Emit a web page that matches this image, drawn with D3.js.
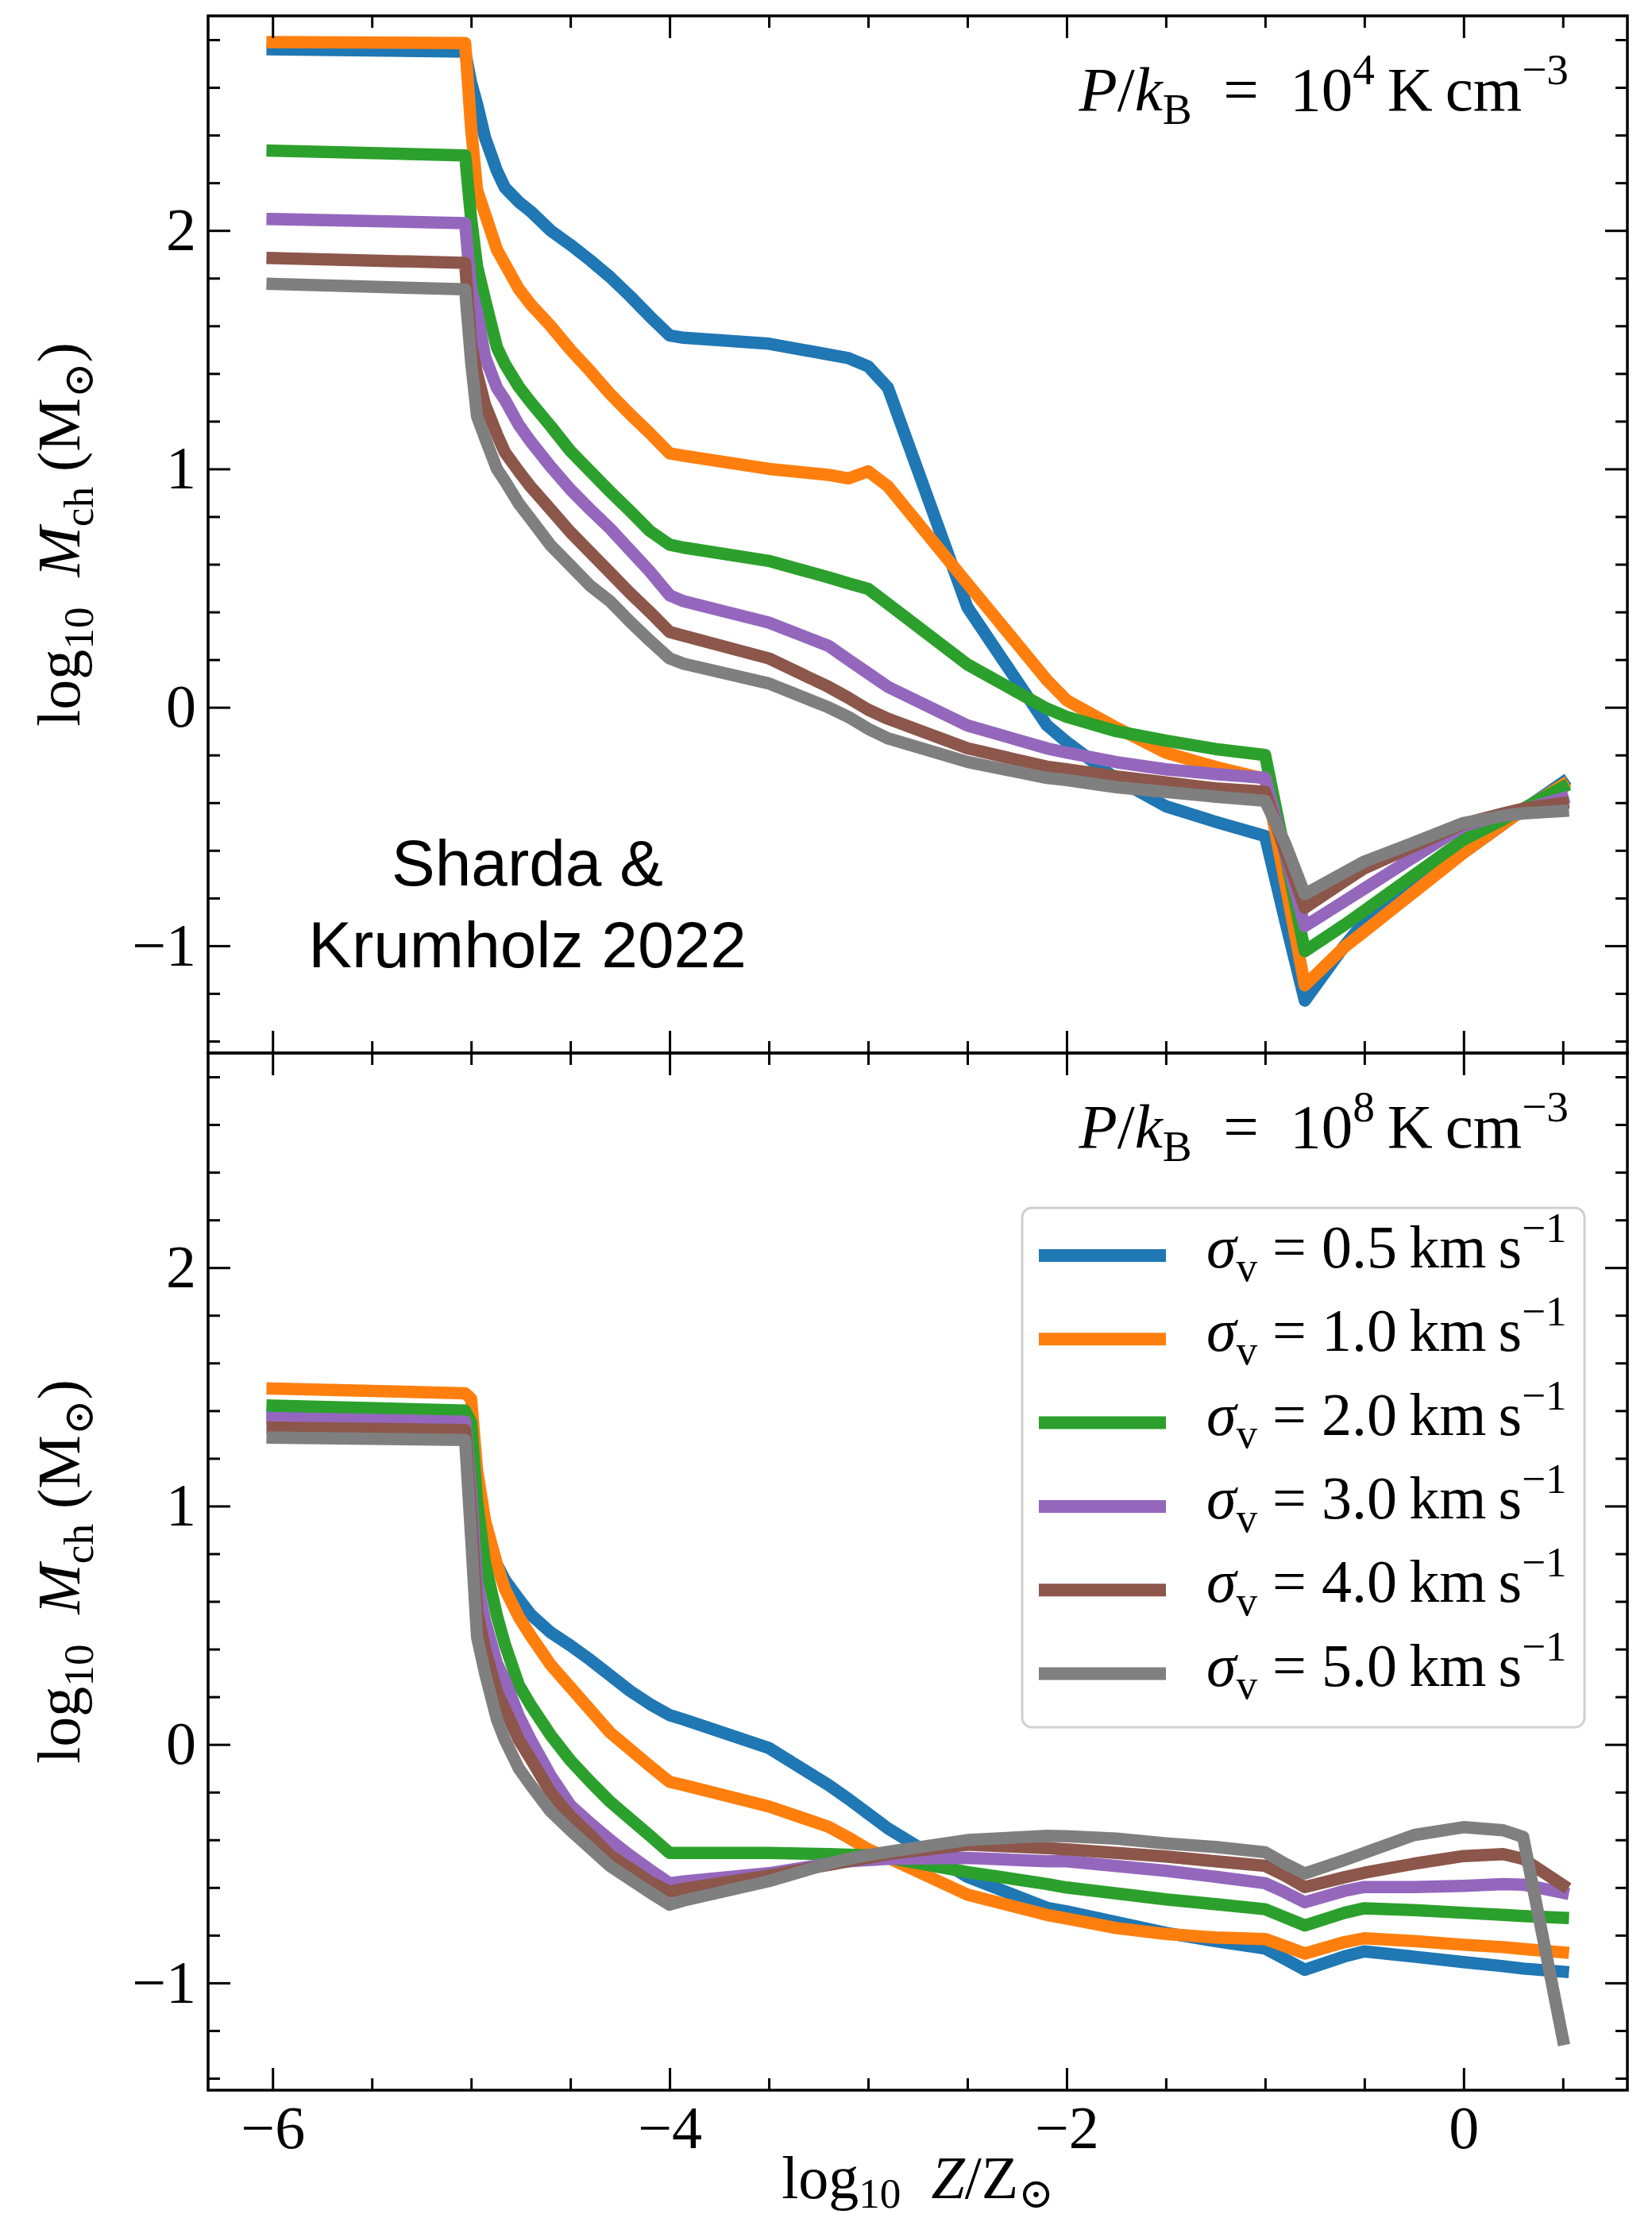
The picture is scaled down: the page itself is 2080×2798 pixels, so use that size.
<!DOCTYPE html>
<html>
<head>
<meta charset="utf-8">
<script src="https://cdn.jsdelivr.net/npm/d3@7"></script>
<style>
  body { margin: 0; background: #fff; }
  text { white-space: pre; }
</style>
</head>
<body>
<script>
// metallicity grid, log10 Z/Zsun
var logZ = [-6, -5.03, -5.0, -4.97, -4.93, -4.87, -4.83, -4.76, -4.7, -4.6, -4.5, -4.4, -4.3, -4.2, -4.1, -4.0, -3.93, -3.5,
  -3.2, -3.1, -3.0, -2.9, -2.5, -2.1, -2.0, -1.75, -1.5, -1.25, -1.0, -0.9, -0.8, -0.6, -0.5, -0.25, 0.0, 0.2, 0.3, 0.5]

// P/kB = 1e4 K cm^-3
var p4_s05 = [2.76, 2.75, 2.62, 2.53, 2.39, 2.25, 2.18, 2.12, 2.08, 2.00, 1.94, 1.875, 1.805, 1.725, 1.64, 1.56, 1.55, 1.525,
  1.48, 1.465, 1.43, 1.34, 0.42, -0.075, -0.145, -0.30, -0.415, -0.48, -0.54, -0.89, -1.23, -1.0, -0.90, -0.76, -0.61, -0.49, -0.43, -0.315]
var p4_s10 = [2.79, 2.786, 2.43, 2.17, 2.07, 1.92, 1.86, 1.755, 1.69, 1.60, 1.50, 1.41, 1.315, 1.23, 1.15, 1.065, 1.055, 1.0,
  0.975, 0.96, 0.99, 0.927, 0.52, 0.115, 0.03, -0.085, -0.19, -0.25, -0.30, -0.73, -1.166, -1.005, -0.94, -0.775, -0.61, -0.49, -0.43, -0.325]
var p4_s20 = [2.335, 2.315, 2.05, 1.85, 1.71, 1.51, 1.44, 1.345, 1.28, 1.18, 1.075, 0.99, 0.905, 0.824, 0.74, 0.682, 0.67, 0.614,
  0.545, 0.52, 0.497, 0.434, 0.18, -0.005, -0.04, -0.10, -0.14, -0.175, -0.20, -0.61, -1.023, -0.912, -0.853, -0.704, -0.555, -0.47, -0.425, -0.335]
var p4_s30 = [2.048, 2.031, 1.75, 1.66, 1.47, 1.34, 1.29, 1.185, 1.115, 1.01, 0.914, 0.83, 0.75, 0.66, 0.57, 0.47, 0.445, 0.355,
  0.258, 0.20, 0.143, 0.086, -0.076, -0.172, -0.19, -0.23, -0.26, -0.28, -0.296, -0.61, -0.918, -0.813, -0.76, -0.628, -0.497, -0.45, -0.43, -0.382]
var p4_s40 = [1.884, 1.864, 1.52, 1.40, 1.27, 1.145, 1.07, 0.99, 0.925, 0.83, 0.735, 0.65, 0.565, 0.48, 0.40, 0.316, 0.30, 0.205,
  0.086, 0.04, -0.01, -0.048, -0.172, -0.249, -0.26, -0.29, -0.315, -0.34, -0.354, -0.60, -0.841, -0.729, -0.675, -0.582, -0.488, -0.445, -0.425, -0.402]
var p4_s50 = [1.776, 1.753, 1.45, 1.22, 1.13, 1.00, 0.95, 0.855, 0.79, 0.68, 0.595, 0.51, 0.445, 0.36, 0.28, 0.205, 0.183, 0.10,
  0.0, -0.04, -0.09, -0.13, -0.229, -0.296, -0.305, -0.335, -0.355, -0.375, -0.392, -0.569, -0.784, -0.692, -0.647, -0.567, -0.485, -0.455, -0.445, -0.435]

// P/kB = 1e8 K cm^-3
var p8_s05 = [1.385, 1.37, 1.25, 1.05, 0.92, 0.755, 0.69, 0.61, 0.545, 0.47, 0.415, 0.355, 0.29, 0.225, 0.17, 0.123, 0.105, -0.015,
  -0.17, -0.228, -0.29, -0.352, -0.555, -0.685, -0.70, -0.745, -0.79, -0.825, -0.856, -0.90, -0.945, -0.889, -0.868, -0.89, -0.913, -0.93, -0.94, -0.953]
var p8_s10 = [1.493, 1.473, 1.45, 1.15, 0.94, 0.755, 0.652, 0.535, 0.456, 0.335, 0.24, 0.145, 0.05, -0.02, -0.09, -0.157, -0.17, -0.26,
  -0.345, -0.39, -0.44, -0.475, -0.63, -0.715, -0.73, -0.77, -0.795, -0.81, -0.816, -0.846, -0.877, -0.829, -0.813, -0.825, -0.84, -0.85, -0.858, -0.872]
var p8_s20 = [1.421, 1.40, 1.35, 1.02, 0.76, 0.54, 0.42, 0.25, 0.165, 0.04, -0.067, -0.156, -0.24, -0.311, -0.382, -0.455, -0.455, -0.455,
  -0.46, -0.462, -0.465, -0.475, -0.535, -0.585, -0.60, -0.625, -0.65, -0.67, -0.691, -0.725, -0.759, -0.706, -0.687, -0.695, -0.706, -0.715, -0.72, -0.727]
var p8_s30 = [1.369, 1.354, 1.05, 0.68, 0.52, 0.34, 0.27, 0.12, 0.02, -0.13, -0.255, -0.33, -0.40, -0.465, -0.525, -0.582, -0.575, -0.54,
  -0.50, -0.49, -0.485, -0.48, -0.476, -0.49, -0.49, -0.51, -0.53, -0.555, -0.582, -0.62, -0.662, -0.614, -0.598, -0.598, -0.593, -0.586, -0.588, -0.622]
var p8_s40 = [1.329, 1.319, 0.95, 0.56, 0.40, 0.22, 0.15, 0.02, -0.06, -0.20, -0.30, -0.38, -0.465, -0.52, -0.575, -0.618, -0.605, -0.55,
  -0.505, -0.49, -0.475, -0.46, -0.42, -0.435, -0.44, -0.455, -0.47, -0.49, -0.509, -0.55, -0.598, -0.557, -0.538, -0.50, -0.468, -0.46, -0.48, -0.59]
var p8_s50 = [1.287, 1.277, 0.87, 0.45, 0.30, 0.105, 0.02, -0.10, -0.17, -0.28, -0.36, -0.435, -0.51, -0.565, -0.62, -0.672, -0.655, -0.573,
  -0.50, -0.48, -0.464, -0.45, -0.401, -0.383, -0.385, -0.395, -0.415, -0.43, -0.452, -0.50, -0.541, -0.485, -0.455, -0.38, -0.347, -0.36, -0.388, -1.236]

var sigmaLabels = ['0.5', '1.0', '2.0', '3.0', '4.0', '5.0']
var colors = ['#1f77b4', '#ff7f0e', '#2ca02c', '#9467bd', '#8c564b', '#7f7f7f']
var xMajor = [-6, -4, -2, 0]
var yMajor = [-1, 0, 1, 2]

var W = 2080, H = 2798
var left = 262, right = 2049
var panelH = 1306
var panelTops = [20, 1326]
var serif = "'Liberation Serif', 'DejaVu Serif', serif"
var fs = 76
var lw = 15.5

var svg = d3.select('body').append('svg')
  .attr('width', W)
  .attr('height', H)
  .style('background', '#fff')

var x = d3.scaleLinear().domain([-6.325, 0.825]).range([left, right])

var xMinor = d3.range(-12, 2).map((v) => v / 2).filter((v) => xMajor.indexOf(v) < 0)
var yMinor = d3.range(-7, 15).map((v) => Math.round(v * 2) / 10).filter((v) => yMajor.indexOf(v) < 0)

function fmtNum(d) {
  return d < 0 ? '\u2212' + Math.abs(d) : '' + d
}

// appends tspans; parts: {t, it, sub, sup}
function addMath(textSel, parts, size, subShift) {
  var shift = 0
  var sd = subShift == null ? 0.22 : subShift
  parts.forEach(function(p) {
    var target = p.sub ? size * sd : (p.sup ? -size * 0.42 : 0)
    textSel.append('tspan')
      .attr('dy', target - shift)
      .attr('font-size', (p.sub || p.sup) ? size * 0.7 : size)
      .attr('font-style', p.it ? 'italic' : 'normal')
      .text(p.t)
    shift = target
  })
}

function drawPanel(idx, series, expo) {
  var top = panelTops[idx]
  var bottom = top + panelH
  var y = d3.scaleLinear().domain([-1.45, 2.9]).range([bottom, top])
  var g = svg.append('g')

  g.append('clipPath').attr('id', 'clip' + idx)
    .append('rect')
    .attr('x', left).attr('y', top)
    .attr('width', right - left).attr('height', panelH)

  var line = d3.line()
    .x((d, i) => x(logZ[i]))
    .y((d) => y(d))

  g.append('g')
    .attr('clip-path', 'url(#clip' + idx + ')')
    .selectAll('path')
    .data(series)
    .enter()
    .append('path')
    .attr('d', (d) => line(d))
    .attr('fill', 'none')
    .attr('stroke', (d, i) => colors[i])
    .attr('stroke-width', lw)
    .attr('stroke-linejoin', 'round')
    .attr('stroke-linecap', 'square')

  // ticks, all pointing inward
  var axes = [
    g.append('g').attr('transform', 'translate(' + left + ',0)')
      .call(d3.axisLeft(y).tickValues(yMajor).tickSize(-28).tickPadding(15).tickFormat(fmtNum)),
    g.append('g').attr('transform', 'translate(' + left + ',0)')
      .call(d3.axisLeft(y).tickValues(yMinor).tickSize(-15).tickFormat('')),
    g.append('g').attr('transform', 'translate(' + right + ',0)')
      .call(d3.axisRight(y).tickValues(yMajor).tickSize(-28).tickFormat('')),
    g.append('g').attr('transform', 'translate(' + right + ',0)')
      .call(d3.axisRight(y).tickValues(yMinor).tickSize(-15).tickFormat('')),
    g.append('g').attr('transform', 'translate(0,' + top + ')')
      .call(d3.axisTop(x).tickValues(xMajor).tickSize(-28).tickFormat('')),
    g.append('g').attr('transform', 'translate(0,' + top + ')')
      .call(d3.axisTop(x).tickValues(xMinor).tickSize(-15).tickFormat('')),
    g.append('g').attr('transform', 'translate(0,' + bottom + ')')
      .call(d3.axisBottom(x).tickValues(xMajor).tickSize(-28).tickPadding(19)
        .tickFormat(idx == 1 ? fmtNum : '')),
    g.append('g').attr('transform', 'translate(0,' + bottom + ')')
      .call(d3.axisBottom(x).tickValues(xMinor).tickSize(-15).tickFormat(''))
  ]
  axes.forEach(function(a) {
    a.select('.domain').remove()
    a.selectAll('line').attr('stroke', '#000').attr('stroke-width', 3)
    a.selectAll('text')
      .attr('font-family', serif)
      .attr('font-size', fs)
      .attr('fill', '#000')
  })

  g.append('rect')
    .attr('x', left).attr('y', top)
    .attr('width', right - left).attr('height', panelH)
    .attr('fill', 'none')
    .attr('stroke', '#000')
    .attr('stroke-width', 3.5)

  // pressure annotation
  var ann = g.append('text')
    .attr('x', 1975).attr('y', top + 119)
    .attr('text-anchor', 'end')
    .attr('font-family', serif)
    .attr('font-size', 79)
  addMath(ann, [
    {t: 'P', it: 1}, {t: '/'}, {t: 'k', it: 1}, {t: 'B', sub: 1},
    {t: '  =  10'}, {t: expo, sup: 1}, {t: '\u2009K\u2009cm'}, {t: '\u22123', sup: 1}
  ], 79)

  // y label
  var yl = g.append('text')
    .attr('transform', 'translate(100,' + (top + panelH / 2) + ') rotate(-90)')
    .attr('text-anchor', 'middle')
    .attr('font-family', serif)
    .attr('font-size', fs)
  addMath(yl, [
    {t: 'log'}, {t: '10', sub: 1}, {t: '  '}, {t: 'M', it: 1}, {t: 'ch', sub: 1},
    {t: ' (M'}, {t: '\u2299', sub: 1}, {t: ')'}
  ], fs)

  return g
}

var gTop = drawPanel(0, [p4_s05, p4_s10, p4_s20, p4_s30, p4_s40, p4_s50], '4')
var gBot = drawPanel(1, [p8_s05, p8_s10, p8_s20, p8_s30, p8_s40, p8_s50], '8')

// credit text
gTop.append('text')
  .attr('x', 664).attr('y', 1115)
  .attr('text-anchor', 'middle')
  .attr('font-family', "'Liberation Sans', Arial, sans-serif")
  .attr('font-size', 82)
  .text('Sharda &')
gTop.append('text')
  .attr('x', 664).attr('y', 1218)
  .attr('text-anchor', 'middle')
  .attr('font-family', "'Liberation Sans', Arial, sans-serif")
  .attr('font-size', 82)
  .text('Krumholz 2022')

// legend
var legend = gBot.append('g')
legend.append('rect')
  .attr('x', 1287).attr('y', 1521)
  .attr('width', 708).attr('height', 654)
  .attr('rx', 12)
  .attr('fill', '#fff')
  .attr('fill-opacity', 0.8)
  .attr('stroke', '#d0d0d0')
  .attr('stroke-width', 3)

var rows = legend.selectAll('g.row')
  .data(sigmaLabels)
  .enter()
  .append('g')
  .attr('class', 'row')
  .attr('transform', (d, i) => 'translate(0,' + (1581 + i * 105.3) + ')')

rows.append('line')
  .attr('x1', 1308).attr('x2', 1468)
  .attr('y1', 0).attr('y2', 0)
  .attr('stroke', (d, i) => colors[i])
  .attr('stroke-width', 16)

rows.each(function(d) {
  var t = d3.select(this).append('text')
    .attr('x', 1519).attr('y', 15)
    .attr('font-family', serif)
    .attr('font-size', fs)
  addMath(t, [
    {t: '\u03c3', it: 1}, {t: 'v', sub: 1}, {t: ' = ' + d + '\u2009km\u2009s'}, {t: '\u22121', sup: 1}
  ], fs)
})

// x label
var xl = svg.append('text')
  .attr('x', (left + right) / 2).attr('y', 2768)
  .attr('text-anchor', 'middle')
  .attr('font-family', serif)
  .attr('font-size', fs)
addMath(xl, [
  {t: 'log'}, {t: '10', sub: 1}, {t: '  '}, {t: 'Z', it: 1}, {t: '/Z'}, {t: '\u2299', sub: 1}
], fs, 0.16)
</script>
</body>
</html>
